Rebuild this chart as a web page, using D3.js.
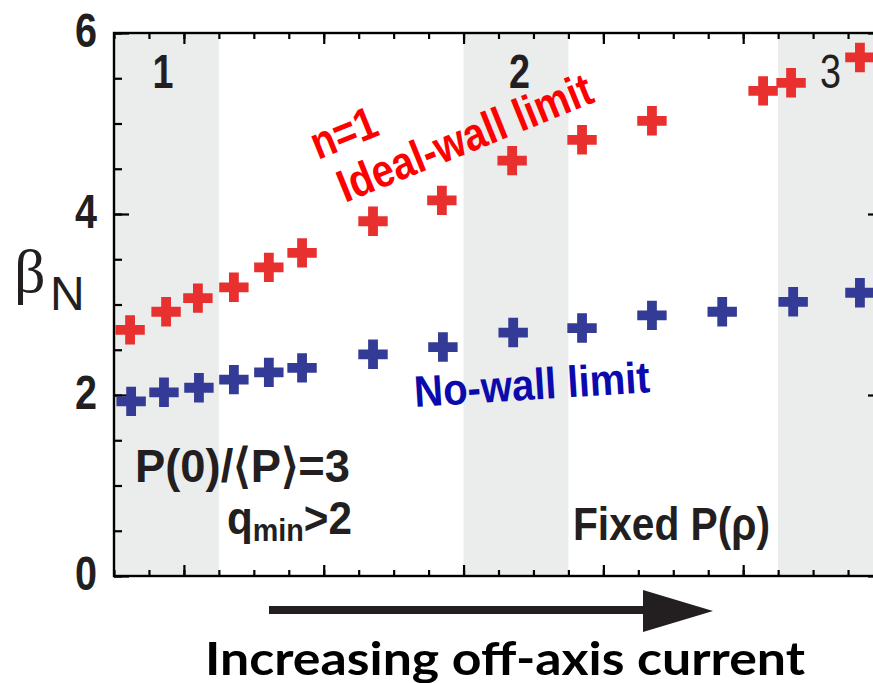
<!DOCTYPE html>
<html>
<head>
<meta charset="utf-8">
<script src="https://cdn.jsdelivr.net/npm/d3@7"></script>
<style>
  html, body { margin: 0; padding: 0; background: #fff; }
  svg { display: block; }
</style>
</head>
<body>
<svg id="chart" width="873" height="683"></svg>
<script>
// Stability limits versus case index (off-axis current increases to the right)
const idealX = [0.46, 1.49, 2.40, 3.43, 4.43, 5.38, 7.41, 9.38, 11.39, 13.39, 15.39, 18.57, 19.37, 21.34];
const idealBeta = [2.72, 2.92, 3.07, 3.19, 3.41, 3.57, 3.92, 4.15, 4.59, 4.82, 5.03, 5.36, 5.45, 5.73];
const noWallX = [0.49, 1.43, 2.43, 3.43, 4.43, 5.38, 7.41, 9.41, 11.42, 13.39, 15.39, 17.40, 19.43, 21.34];
const noWallBeta = [1.93, 2.03, 2.08, 2.17, 2.25, 2.30, 2.45, 2.53, 2.69, 2.74, 2.88, 2.92, 3.03, 3.13];

// Shaded case groups and their labels
const bandStart = [0, 10, 19];
const bandEnd = [3, 13, 22];
const bandLabels = ["1", "2", "3"];
const bandLabelX = [1.4, 11.6, 20.5];

// Axis ticks
const yMajorTicks = [0, 2, 4, 6];
const yMinorTicks = d3.range(0, 6.01, 0.5);
const xMinorTicks = d3.range(0, 23, 1);
const xMajorTicks = [2, 6, 10, 14, 18, 22];

const svg = d3.select("#chart");
const plotLeft = 114, plotTop = 33, plotRight = 883, plotBottom = 576;

const x = d3.scaleLinear().domain([0, 22]).range([plotLeft, plotRight]);
const y = d3.scaleLinear().domain([0, 6]).range([plotBottom, plotTop]);

const ink = "#231f20";
const sans = "'Liberation Sans', Arial, sans-serif";

// bands
svg.append("g").selectAll("rect")
  .data(bandStart)
  .join("rect")
  .attr("x", (d) => x(d))
  .attr("y", plotTop)
  .attr("width", (d, i) => x(bandEnd[i]) - x(d))
  .attr("height", plotBottom - plotTop)
  .attr("fill", "#ebecec");

// band labels (condensed digits)
svg.append("g").selectAll("text")
  .data(bandLabels)
  .join("text")
  .attr("x", (d, i) => x(bandLabelX[i]) - 10.5)
  .attr("y", 88)
  .attr("font-family", sans)
  .attr("font-weight", (d, i) => i === 2 ? "normal" : "bold")
  .attr("font-size", 48)
  .attr("fill", ink)
  .attr("textLength", 21).attr("lengthAdjust", "spacingAndGlyphs")
  .text((d) => d);

// axes: minor and major ticks on all four sides, pointing inward
function styleAxis(g) {
  g.select(".domain").remove();
  g.selectAll("line").attr("stroke", "#000").attr("stroke-width", 2.2);
}
svg.append("g").attr("transform", `translate(${plotLeft},0)`)
  .call(d3.axisLeft(y).tickValues(yMinorTicks).tickSize(-8).tickFormat(""))
  .call(styleAxis);
svg.append("g").attr("transform", `translate(${plotLeft},0)`)
  .call(d3.axisLeft(y).tickValues(yMajorTicks).tickSize(-15).tickPadding(17).tickFormat(d3.format("d")))
  .call(styleAxis)
  .call((g) => g.selectAll("text")
    .attr("font-family", sans).attr("font-weight", "bold")
    .attr("font-size", 48).attr("fill", ink)
    .attr("text-anchor", "start")
    .attr("x", -39)
    .attr("dy", "0.32em").attr("transform", "translate(0,-2)")
    .attr("textLength", 22).attr("lengthAdjust", "spacingAndGlyphs"));
svg.append("g").attr("transform", `translate(${plotRight},0)`)
  .call(d3.axisRight(y).tickValues(yMinorTicks).tickSize(-8).tickFormat(""))
  .call(styleAxis);
svg.append("g").attr("transform", `translate(${plotRight},0)`)
  .call(d3.axisRight(y).tickValues(yMajorTicks).tickSize(-15).tickFormat(""))
  .call(styleAxis);
svg.append("g").attr("transform", `translate(0,${plotTop})`)
  .call(d3.axisTop(x).tickValues(xMinorTicks).tickSize(-6).tickFormat(""))
  .call(styleAxis);
svg.append("g").attr("transform", `translate(0,${plotTop})`)
  .call(d3.axisTop(x).tickValues(xMajorTicks).tickSize(-11).tickFormat(""))
  .call(styleAxis);
svg.append("g").attr("transform", `translate(0,${plotBottom})`)
  .call(d3.axisBottom(x).tickValues(xMinorTicks).tickSize(-6).tickFormat(""))
  .call(styleAxis);
svg.append("g").attr("transform", `translate(0,${plotBottom})`)
  .call(d3.axisBottom(x).tickValues(xMajorTicks).tickSize(-11).tickFormat(""))
  .call(styleAxis);

// frame
svg.append("rect")
  .attr("x", plotLeft).attr("y", plotTop)
  .attr("width", plotRight - plotLeft).attr("height", plotBottom - plotTop)
  .attr("fill", "none").attr("stroke", "#000").attr("stroke-width", 2.4);

// data markers
const cross = d3.symbol().type(d3.symbolCross).size(480);
function plotSeries(xs, ys, color) {
  svg.append("g").selectAll("path")
    .data(xs)
    .join("path")
    .attr("d", cross)
    .attr("transform", (d, i) => `translate(${x(d)},${y(ys[i])})`)
    .attr("fill", color);
}
plotSeries(idealX, idealBeta, "#e8302f");
plotSeries(noWallX, noWallBeta, "#343b97");

// series annotations
const red = svg.append("g")
  .attr("transform", "translate(345,203) rotate(-22)")
  .attr("font-family", sans).attr("font-weight", "bold")
  .attr("font-size", 46).attr("fill", "#ff0000");
red.append("text").attr("x", -9).attr("y", -50)
  .attr("textLength", 68).attr("lengthAdjust", "spacingAndGlyphs")
  .text("n=1");
red.append("text").attr("x", 0).attr("y", 0)
  .attr("textLength", 271).attr("lengthAdjust", "spacingAndGlyphs")
  .text("Ideal-wall limit");

svg.append("text")
  .attr("transform", "translate(415,407) rotate(-3.6)")
  .attr("font-family", sans).attr("font-weight", "bold")
  .attr("font-size", 44).attr("fill", "#0a0aad")
  .attr("textLength", 236).attr("lengthAdjust", "spacingAndGlyphs")
  .text("No-wall limit");

// case description
const desc = svg.append("g")
  .attr("font-family", sans).attr("font-weight", "bold")
  .attr("font-size", 47).attr("fill", ink);
const p0 = desc.append("text").attr("x", 135).attr("y", 482)
  .attr("textLength", 215).attr("lengthAdjust", "spacingAndGlyphs")
  .text("P(0)/\u27E8P\u27E9=3");

const qm = desc.append("text").attr("x", 227).attr("y", 534)
  .attr("textLength", 125).attr("lengthAdjust", "spacingAndGlyphs");
qm.append("tspan").text("q");
qm.append("tspan").attr("font-size", 32).attr("dy", 7).text("min");
qm.append("tspan").attr("dy", -7).text(">2");

desc.append("text").attr("x", 573).attr("y", 540)
  .attr("textLength", 197).attr("lengthAdjust", "spacingAndGlyphs")
  .text("Fixed P(\u03C1)");

// y-axis title
const yt = svg.append("text").attr("x", 14).attr("y", 292).attr("fill", ink);
yt.append("tspan").attr("font-family", "'Liberation Serif', serif").attr("font-size", 62).text("\u03B2");
yt.append("tspan").attr("font-family", sans).attr("font-size", 48)
  .attr("x", 50).attr("y", 310).text("N");

// direction arrow and x-axis caption
svg.append("rect").attr("x", 269).attr("y", 606).attr("width", 380).attr("height", 8).attr("fill", ink);
svg.append("path").attr("d", "M643,590 L713,611 L643,632 Z").attr("fill", ink);

svg.append("text")
  .attr("x", 205).attr("y", 675)
  .attr("font-family", "Lato, 'DejaVu Sans', sans-serif").attr("font-weight", "bold")
  .attr("font-size", 45).attr("fill", "#000")
  .attr("textLength", 600).attr("lengthAdjust", "spacingAndGlyphs")
  .text("Increasing off-axis current");
</script>
</body>
</html>
